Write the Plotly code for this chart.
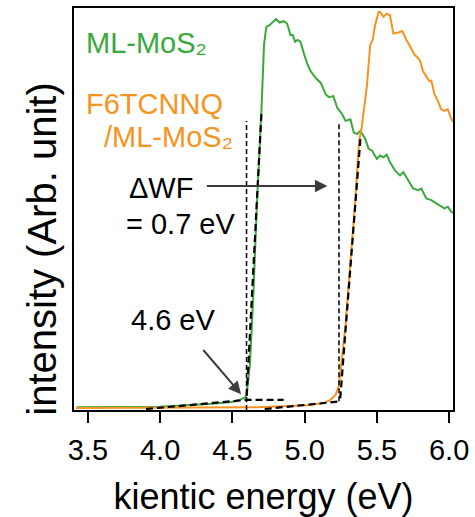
import plotly.graph_objects as go

# ---- data ----
green_energy = [3.423, 3.993, 4.336, 4.495, 4.553, 4.587, 4.598, 4.621, 4.644, 4.660, 4.671,
                4.701, 4.719, 4.735, 4.758, 4.781, 4.803, 4.827, 4.856, 4.879, 4.902, 4.918,
                4.934, 4.952, 4.971, 4.998, 5.021, 5.043, 5.077, 5.112, 5.146, 5.169, 5.199,
                5.226, 5.260, 5.283, 5.317, 5.340, 5.363, 5.386, 5.420, 5.443, 5.466, 5.500,
                5.523, 5.546, 5.568, 5.591, 5.625, 5.660, 5.683, 5.717, 5.751, 5.786, 5.808,
                5.842, 5.877, 5.911, 5.945, 5.968, 5.991, 6.014, 6.027]
green_intensity = [0.67, 0.81, 1.48, 1.97, 2.54, 3.13, 3.77, 11.16, 27.59, 44.09, 52.22,
                   74.38, 90.81, 95.32, 95.74, 96.55, 97.22, 96.38, 96.72, 96.13, 93.28, 93.28,
                   91.63, 92.05, 91.63, 88.35, 85.89, 84.24, 82.59, 81.36, 78.50, 77.83, 78.08,
                   75.20, 73.57, 71.92, 72.34, 69.04, 68.65, 69.46, 67.41, 64.95, 64.53, 62.49,
                   63.30, 62.88, 63.55, 61.65, 59.61, 58.37, 59.19, 57.14, 55.10, 54.68, 55.10,
                   52.64, 52.22, 51.40, 50.57, 50.17, 50.57, 49.34, 49.01]

orange_energy = [3.418, 3.993, 4.678, 5.021, 5.135, 5.180, 5.215, 5.238, 5.260, 5.283, 5.306,
                 5.329, 5.351, 5.377, 5.394, 5.432, 5.454, 5.471, 5.488, 5.512, 5.523, 5.546,
                 5.568, 5.591, 5.614, 5.649, 5.676, 5.705, 5.740, 5.762, 5.797, 5.820, 5.842,
                 5.865, 5.877, 5.899, 5.923, 5.945, 5.968, 5.991, 6.014, 6.027]
orange_intensity = [0.49, 0.49, 0.67, 1.16, 1.72, 2.54, 3.77, 6.23, 12.81, 21.01, 31.70,
                    42.36, 52.22, 67.00, 69.95, 80.96, 90.81, 92.04, 95.74, 99.01, 99.01, 97.78,
                    98.60, 98.20, 93.67, 93.92, 94.26, 92.04, 89.58, 88.35, 87.12, 84.24, 83.00,
                    81.77, 81.95, 78.50, 76.85, 74.80, 74.38, 74.80, 72.54, 71.67]

# fit / guide lines (energy, intensity)
green_edge_x = [4.701, 4.598]
green_edge_y = [73.6, 2.5]
green_base_x = [3.902, 4.598, 4.855]
green_base_y = [0.25, 2.5, 2.5]
green_cut_x = [4.598, 4.598]
green_cut_y = [0.0, 71.9]

orange_edge_x = [5.386, 5.245]
orange_edge_y = [67.4, 2.14]
orange_base_x = [4.724, 5.245]
orange_base_y = [0.25, 2.14]
orange_cut_x = [5.238, 5.238]
orange_cut_y = [2.2, 71.5]

x_ticks = [3.5, 4.0, 4.5, 5.0, 5.5, 6.0]
x_ticklabels = ["3.5", "4.0", "4.5", "5.0", "5.5", "6.0"]

GREEN = "#3aa83c"
ORANGE = "#f7931e"
FONT = "Arial, Liberation Sans, sans-serif"

fig = go.Figure()
fig.add_trace(go.Scatter(x=green_energy, y=green_intensity, mode="lines",
                         line=dict(color=GREEN, width=2), showlegend=False))
fig.add_trace(go.Scatter(x=orange_energy, y=orange_intensity, mode="lines",
                         line=dict(color=ORANGE, width=2), showlegend=False))

for xs, ys in [(green_edge_x, green_edge_y), (green_base_x, green_base_y),
               (orange_edge_x, orange_edge_y), (orange_base_x, orange_base_y)]:
    fig.add_trace(go.Scatter(x=xs, y=ys, mode="lines",
                             line=dict(color="black", width=2.2, dash="7px,4px"),
                             showlegend=False))
for xs, ys in [(green_cut_x, green_cut_y), (orange_cut_x, orange_cut_y)]:
    fig.add_trace(go.Scatter(x=xs, y=ys, mode="lines",
                             line=dict(color="black", width=1.5, dash="5px,3px"),
                             showlegend=False))

texts = [
    ("ML-MoS₂", 3.475, 91.2, GREEN),
    ("F6TCNNQ", 3.475, 76.1, ORANGE),
    ("/ML-MoS₂", 3.598, 68.0, ORANGE),
    ("ΔWF", 3.769, 55.2, "black"),
    ("= 0.7 eV", 3.748, 46.3, "black"),
    ("4.6 eV", 3.783, 22.5, "black"),
]
for t, x, y, c in texts:
    fig.add_annotation(x=x, y=y, text=t, showarrow=False, xanchor="left", yanchor="middle",
                       font=dict(family=FONT, size=29, color=c))

arrows = [
    (5.158, 55.7, 4.313, 55.7),
    (4.560, 3.94, 4.290, 15.3),
]
for x, y, ax, ay in arrows:
    fig.add_annotation(x=x, y=y, ax=ax, ay=ay, xref="x", yref="y", axref="x", ayref="y",
                       text="", showarrow=True, arrowhead=2, arrowsize=1.25,
                       arrowwidth=2, arrowcolor="#3c3c3c")

# y axis title (placed as rotated text to match the reference position)
fig.add_annotation(x=-0.083, y=0.40, xref="paper", yref="paper",
                   text="intensity (Arb. unit)", showarrow=False, textangle=-90,
                   xanchor="center", yanchor="middle",
                   font=dict(family=FONT, size=40, color="black"))

fig.update_layout(
    width=475, height=517,
    margin=dict(l=74, r=18, t=6, b=105),
    paper_bgcolor="white", plot_bgcolor="white",
    font=dict(family=FONT, color="black"),
    xaxis=dict(range=[3.404, 6.027], tickvals=x_ticks, ticktext=x_ticklabels,
               ticks="outside", ticklen=11, tickwidth=2, tickcolor="black",
               ticklabelstandoff=2,
               showline=True, linewidth=2, linecolor="black", mirror=True,
               showgrid=False, zeroline=False,
               tickfont=dict(family=FONT, size=29, color="black"),
               title=dict(text="kientic energy (eV)", standoff=20,
                          font=dict(family=FONT, size=36, color="black"))),
    yaxis=dict(range=[0, 100], showticklabels=False, ticks="",
               showline=True, linewidth=2, linecolor="black", mirror=True,
               showgrid=False, zeroline=False),
)

fig.write_html("out.html")
